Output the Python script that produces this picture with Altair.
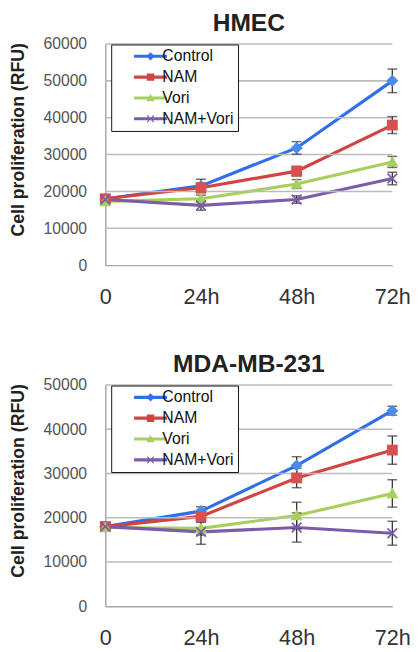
import altair as alt
import pandas as pd

times = ["0", "24h", "48h", "72h"]
series = ["Control", "NAM", "Vori", "NAM+Vori"]

hmec_yticks = [0, 10000, 20000, 30000, 40000, 50000, 60000]
mda_yticks = [0, 10000, 20000, 30000, 40000, 50000]

hmec_control = [18000, 21500, 31800, 50000]
hmec_control_err = [800, 1800, 1700, 3200]
hmec_nam = [18000, 21000, 25500, 38000]
hmec_nam_err = [700, 1300, 1300, 2300]
hmec_vori = [17300, 18000, 22000, 28000]
hmec_vori_err = [800, 1000, 1200, 1500]
hmec_combo = [17800, 16200, 17800, 23500]
hmec_combo_err = [700, 1300, 1000, 1700]

mda_control = [18000, 21500, 31800, 44200]
mda_control_err = [700, 1000, 2000, 1000]
mda_nam = [18000, 20300, 29000, 35300]
mda_nam_err = [700, 1300, 2200, 3200]
mda_vori = [17800, 17600, 20500, 25500]
mda_vori_err = [700, 1500, 3000, 3100]
mda_combo = [18000, 16800, 17800, 16500]
mda_combo_err = [600, 2800, 3300, 2700]

colors = ["#2F6FE8", "#D04444", "#A6CF5E", "#7B5CAA"]
marker_colors = ["#4A8BEA", "#D85050", "#A6CF5E", "#7B5CAA"]

# filled marker paths
diamond = "M0,-1 L1,0 L0,1 L-1,0 Z"
square = "M-0.9,-0.9 L0.9,-0.9 L0.9,0.9 L-0.9,0.9 Z"
triangle = "M0,-1 L1,0.8 L-1,0.8 Z"
xshape = ("M-0.9,-0.7 L-0.7,-0.9 L0,-0.2 L0.7,-0.9 L0.9,-0.7 L0.2,0 L0.9,0.7 "
          "L0.7,0.9 L0,0.2 L-0.7,0.9 L-0.9,0.7 L-0.2,0 Z")
plot_shapes = [diamond, square, triangle, xshape]
# legend symbols: a thick line segment plus the marker
seg = "M-4,-0.38 L4,-0.38 L4,0.38 L-4,0.38 Z "
legend_shapes = [seg + diamond, seg + square, seg + triangle, seg + xshape]


def make_df(vals, errs):
    rows = []
    for s, v, e in zip(series, vals, errs):
        for t, vv, ee in zip(times, v, e):
            rows.append({"time": t, "series": s, "value": vv,
                         "lo": vv - ee, "hi": vv + ee})
    return pd.DataFrame(rows)


def panel(df, title, yticks):
    ymax = yticks[-1]
    x = alt.X("time:N", sort=times,
              scale=alt.Scale(type="point", padding=0),
              axis=alt.Axis(title=None, labelAngle=0, labelFontSize=22,
                            labelColor="#333", labelFont="Arial",
                            domainColor="#aaa", domainWidth=1.5,
                            ticks=False, labelPadding=22, grid=False))
    yaxis = alt.Axis(title="Cell proliferation (RFU)",
                     titleFontSize=18, titleFont="Arial",
                     titleFontWeight="bold", titleColor="#222",
                     titlePadding=16, titleY=97,
                     labelFontSize=16, labelColor="#555",
                     labelFont="Arial", labelPadding=19, format="d",
                     ticks=False, values=yticks,
                     domainColor="#aaa", domainWidth=1.5, grid=False)
    yscale = alt.Scale(domain=[0, ymax], nice=False)

    def Y(field):
        return alt.Y(field, scale=yscale, axis=yaxis)

    grid_df = pd.DataFrame({"g": [v for v in yticks if v > 0]})
    grid = alt.Chart(grid_df).mark_rule(color="#bbb", strokeWidth=1.6).encode(
        y=Y("g:Q"))
    base = alt.Chart(df)
    line = base.mark_line(strokeWidth=3.2).encode(
        x=x, y=Y("value:Q"),
        color=alt.Color("series:N", sort=series,
                        scale=alt.Scale(domain=series, range=colors), legend=None),
    )
    rule = base.mark_rule(color="#333", strokeWidth=1.3).encode(
        x=x, y=Y("lo:Q"), y2="hi:Q")
    cap_lo = base.mark_tick(color="#333", thickness=1.5, size=10).encode(
        x=x, y=Y("lo:Q"))
    cap_hi = base.mark_tick(color="#333", thickness=1.5, size=10).encode(
        x=x, y=Y("hi:Q"))
    pts = base.mark_point(filled=True, size=150, opacity=1).encode(
        x=x, y=Y("value:Q"),
        color=alt.Color("series:N", sort=series,
                        scale=alt.Scale(domain=series, range=marker_colors),
                        legend=None),
        shape=alt.Shape("series:N", sort=series,
                        scale=alt.Scale(domain=series, range=plot_shapes),
                        legend=None),
    )
    leg = alt.Legend(title=None, orient="none", legendX=6, legendY=0.5,
                     strokeColor="#111", fillColor="white", padding=4,
                     labelFontSize=16, labelFont="Arial", labelColor="#111",
                     symbolSize=70, symbolStrokeWidth=0,
                     symbolOffset=28, labelOffset=4, rowPadding=5.2,
                     cornerRadius=0)
    legend_layer = base.transform_filter("datum.value < 0").mark_point(
        filled=True, size=70, opacity=1).encode(
        x=x, y=Y("value:Q"),
        color=alt.Color("series:N", sort=series,
                        scale=alt.Scale(domain=series, range=colors), legend=leg),
        shape=alt.Shape("series:N", sort=series,
                        scale=alt.Scale(domain=series, range=legend_shapes),
                        legend=leg),
    )
    return alt.layer(line, grid, rule, cap_lo, cap_hi, pts, legend_layer).resolve_scale(
        color="independent", shape="independent"
    ).properties(
        width=292, height=225,
        title=alt.Title(title, fontSize=25, font="Arial", fontWeight="bold",
                        color="#222", anchor="middle", offset=0),
    )


top = panel(make_df([hmec_control, hmec_nam, hmec_vori, hmec_combo],
                    [hmec_control_err, hmec_nam_err, hmec_vori_err, hmec_combo_err]),
            "HMEC", hmec_yticks)
bottom = panel(make_df([mda_control, mda_nam, mda_vori, mda_combo],
                       [mda_control_err, mda_nam_err, mda_vori_err, mda_combo_err]),
               "MDA-MB-231", mda_yticks)

chart = alt.vconcat(top, bottom, spacing=46).resolve_scale(
    color="independent", shape="independent"
).configure(
    padding={"left": 1, "top": -2, "right": 0, "bottom": 0}
).configure_view(stroke=None)

chart.save("out.html", embed_options={"renderer": "svg", "actions": False})
